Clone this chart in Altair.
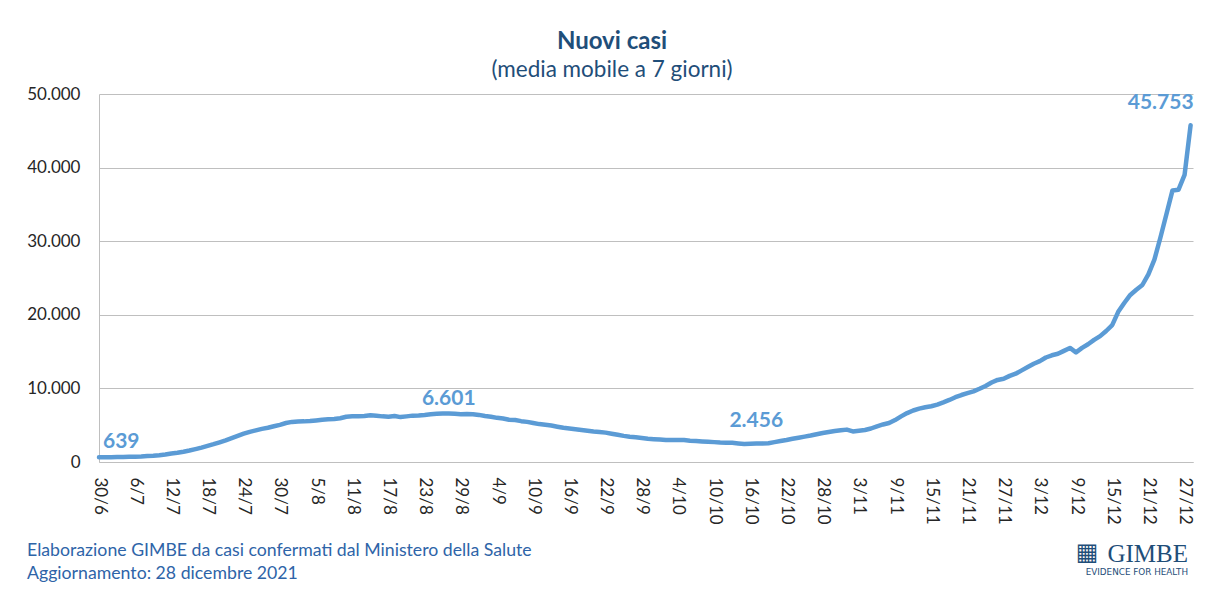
import altair as alt
import pandas as pd

# 7-day moving average of new cases, daily from 30/6/2021 to 28/12/2021
cases = [
    639, 650, 660, 670, 690, 700, 720, 750, 800, 850,
    920, 1020, 1150, 1260, 1400, 1560, 1750, 1950, 2180, 2420,
    2680, 2950, 3250, 3550, 3850, 4100, 4300, 4500, 4650, 4850,
    5050, 5300, 5450, 5500, 5520, 5560, 5650, 5750, 5800, 5830,
    5950, 6150, 6200, 6200, 6250, 6350, 6280, 6200, 6150, 6250,
    6100, 6200, 6300, 6320, 6400, 6500, 6550, 6601, 6580, 6550,
    6500, 6520, 6500, 6400, 6250, 6150, 6000, 5900, 5750, 5700,
    5550, 5450, 5300, 5150, 5050, 4950, 4800, 4650, 4550, 4450,
    4350, 4250, 4150, 4080, 3990, 3850, 3700, 3550, 3440, 3350,
    3250, 3150, 3100, 3050, 3000, 2990, 3000, 2980, 2900, 2850,
    2800, 2750, 2700, 2650, 2620, 2600, 2520, 2456, 2480, 2500,
    2520, 2560, 2700, 2850, 2990, 3150, 3300, 3450, 3600, 3780,
    3950, 4080, 4200, 4300, 4400, 4150, 4250, 4350, 4550, 4850,
    5100, 5300, 5700, 6200, 6650, 7000, 7250, 7430, 7570, 7800,
    8100, 8430, 8800, 9100, 9350, 9600, 9950, 10330, 10800, 11150,
    11300, 11700, 12000, 12450, 12900, 13350, 13700, 14200, 14500, 14700,
    15100, 15500, 14900, 15500, 16000, 16600, 17100, 17800, 18600, 20400,
    21600, 22700, 23400, 24050, 25500, 27500, 30500, 33700, 36900, 37000,
    39000, 45753,
]
dates = list(pd.date_range("2021-06-30", periods=len(cases), freq="D").strftime("%Y-%m-%d"))

tick_labels = ["30/6", "6/7", "12/7", "18/7", "24/7", "30/7", "5/8", "11/8", "17/8",
               "23/8", "29/8", "4/9", "10/9", "16/9", "22/9", "28/9", "4/10", "10/10",
               "16/10", "22/10", "28/10", "3/11", "9/11", "15/11", "21/11", "27/11",
               "3/12", "9/12", "15/12", "21/12", "27/12"]
tick_dates = list(pd.date_range("2021-06-30", periods=len(tick_labels), freq="6D").strftime("%Y-%m-%d"))
y_ticks = [0, 10000, 20000, 30000, 40000, 50000]

# highlighted values: start, summer peak, autumn minimum, last
label_dates = ["2021-06-30", "2021-08-26", "2021-10-15", "2021-12-28"]


def ms(s):
    return int(pd.Timestamp(s, tz="UTC").timestamp() * 1000)


def it_num(v):
    return f"{v:,}".replace(",", ".")


df = pd.DataFrame({"date": dates, "cases": cases})

label_map = {ms(d): l for d, l in zip(tick_dates, tick_labels)}
label_expr = "{" + ",".join(f"'{k}':'{v}'" for k, v in label_map.items()) + "}[''+time(datum.value)]"

FONT = "Lato"
GRID = "#BFBFBF"
LINE = "#5B9BD5"
NAVY = "#1F4E79"
FOOT = "#2E64A8"

x_enc = alt.X(
    "date:T",
    scale=alt.Scale(type="utc", domain=[ms("2021-06-30"), ms("2021-06-30") + int(181.4 * 86400000)]),
    axis=alt.Axis(
        values=[ms(d) for d in tick_dates], labelExpr=label_expr,
        labelAngle=90, labelAlign="left", labelBaseline="middle",
        labelPadding=15, ticks=False, tickSize=0, grid=False,
        domainColor=GRID, domainWidth=1, labelFont=FONT, labelFontSize=17,
        labelColor="#262626", title=None, labelOverlap=False, labelFlush=False,
    ),
)
y_enc = alt.Y(
    "cases:Q",
    scale=alt.Scale(domain=[0, 50000], nice=False),
    axis=alt.Axis(
        values=y_ticks, labelExpr="replace(format(datum.value, ','), ',', '.')",
        grid=True, gridColor=GRID, gridWidth=1, domainColor=GRID, domainWidth=1,
        ticks=False, tickSize=0, labelPadding=19, labelFont=FONT, labelFontSize=17,
        labelColor="#262626", title=None,
    ),
)

line = alt.Chart(df).mark_line(
    color=LINE, strokeWidth=4.5, strokeCap="round", strokeJoin="round"
).encode(x=x_enc, y=y_enc)

label_offsets = [("left", 4, -15), ("center", 6, -14), ("center", 12, -23), ("right", 3, -22)]
label_layers = []
for d, (al, dx, dy) in zip(label_dates, label_offsets):
    v = cases[dates.index(d)]
    ldf = pd.DataFrame({"date": [d], "cases": [v], "txt": [it_num(v)]})
    label_layers.append(
        alt.Chart(ldf).mark_text(
            font=FONT, fontSize=21, fontWeight="bold", color=LINE,
            align=al, baseline="middle", dx=dx, dy=dy,
        ).encode(x=x_enc, y=y_enc, text="txt:N")
    )


def free_text(txt, x, y, **kw):
    return alt.Chart(pd.DataFrame({"t": [txt]})).mark_text(**kw).encode(
        text="t:N", x=alt.value(x), y=alt.value(y)
    )


foot1 = free_text("Elaborazione GIMBE da casi confermati dal Ministero della Salute", -72, 457,
                  font=FONT, fontSize=17.7, color=FOOT, align="left", baseline="middle")
foot2 = free_text("Aggiornamento: 28 dicembre 2021", -72, 480,
                  font=FONT, fontSize=17.7, color=FOOT, align="left", baseline="middle")
logo_icon = free_text("▦", 988, 459, font="DejaVu Sans", fontSize=24, color=NAVY,
                      align="center", baseline="middle")
logo_txt = free_text("GIMBE", 1089, 460, font="Liberation Serif", fontSize=25, color=NAVY,
                     align="right", baseline="middle")
logo_sub = free_text("EVIDENCE FOR HEALTH", 1089, 478, font="DejaVu Sans", fontSize=8.8,
                     color=NAVY, align="right", baseline="middle")

chart = alt.layer(line, *label_layers, foot1, foot2, logo_icon, logo_txt, logo_sub).properties(
    width=1094,
    height=368,
    autosize=alt.AutoSizeParams(type="none"),
    padding={"left": 91, "top": 86, "right": 13, "bottom": 122},
    background="white",
    title=alt.TitleParams(
        "Nuovi casi", subtitle="(media mobile a 7 giorni)", font=FONT, fontSize=24,
        fontWeight="bold", color=NAVY, subtitleFont=FONT, subtitleFontSize=22.5,
        subtitleColor=NAVY, anchor="middle", frame="group", dx=-34, offset=4,
        subtitlePadding=5,
    ),
).configure_view(stroke=None)

chart.save("out.html", embed_options={"renderer": "svg", "actions": False})
